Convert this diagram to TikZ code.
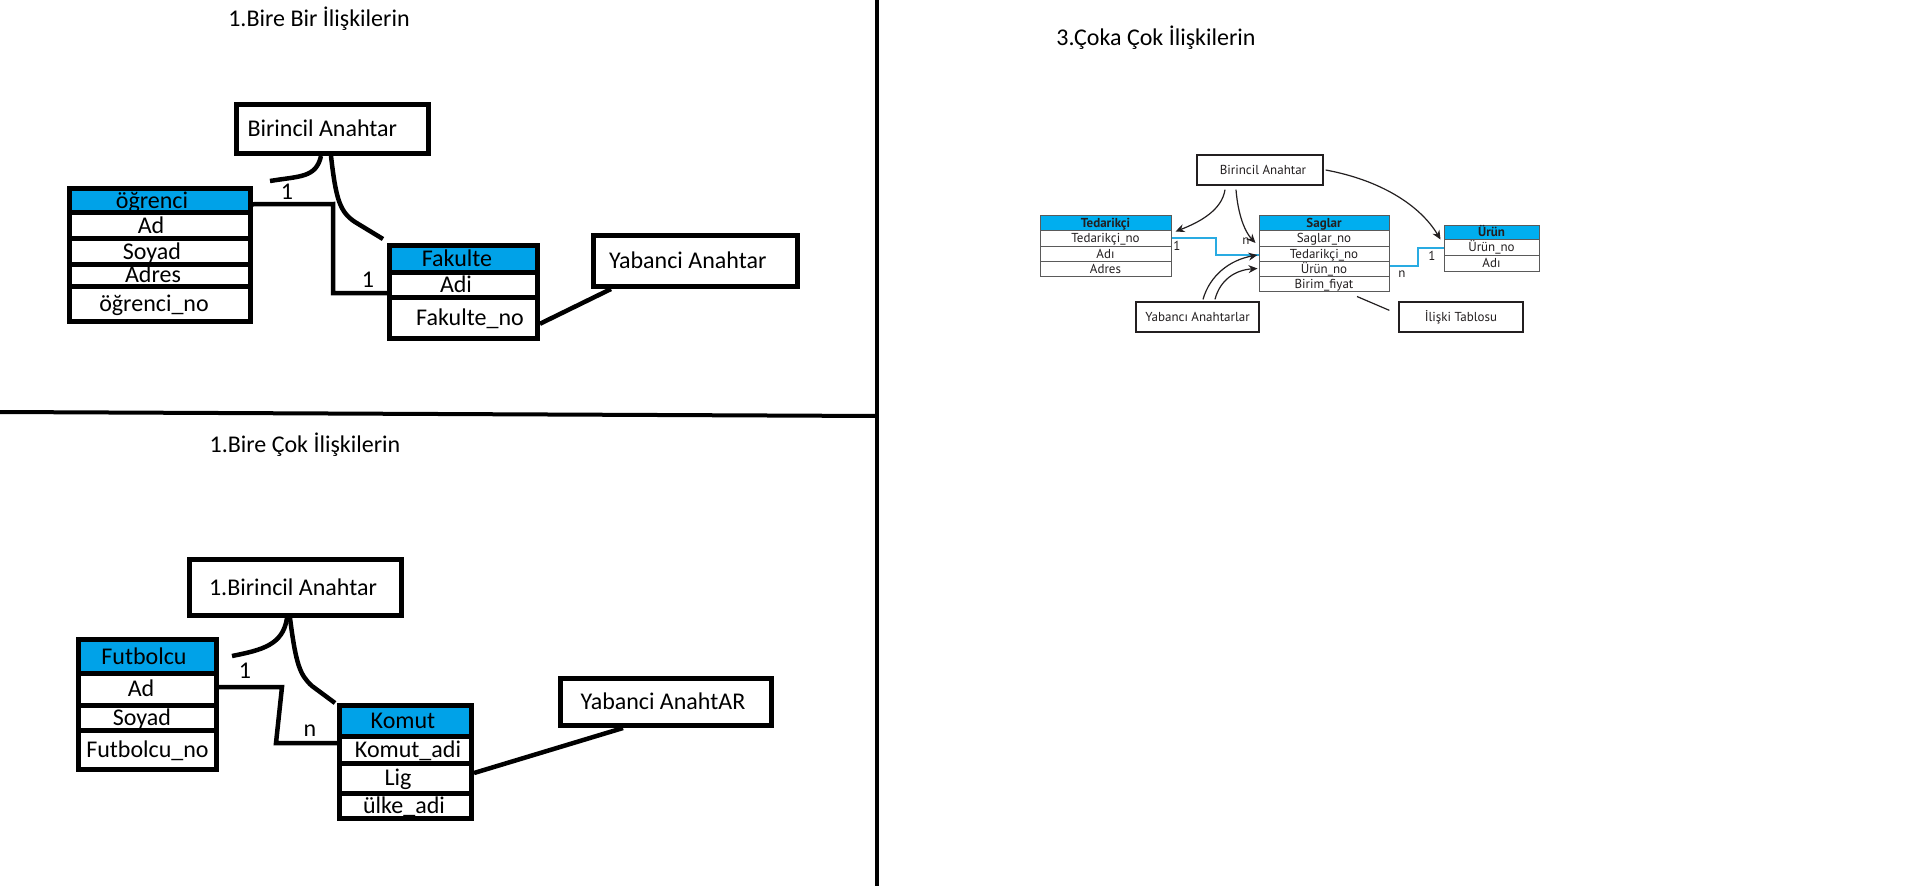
\documentclass[tikz,border=0pt]{standalone}
\usepackage{fontspec}
\setmainfont{Carlito}
\newfontfamily\ptsans{PT Sans}
\usetikzlibrary{calc,arrows.meta}
\definecolor{paintblue}{RGB}{0,162,232}
\definecolor{cyanhead}{RGB}{0,174,239}
\definecolor{cyanline}{RGB}{41,171,226}
\definecolor{ink}{RGB}{35,31,32}
\definecolor{cellgray}{RGB}{90,90,90}
\newcommand\txsh[2]{\makebox[0pt]{\hspace*{#1}#2}}
\begin{document}
\begin{tikzpicture}[x=1pt,y=-1pt,
  pfont/.style={font=\fontsize{24}{24}\selectfont, text height=15.5pt, text depth=0pt},
  pcell/.style={draw=black, line width=5pt, fill=white, inner sep=0pt, pfont},
  phead/.style={pcell, fill=paintblue},
  pbox/.style={draw=black, line width=5pt, fill=white, inner sep=0pt, pfont},
  plink/.style={draw=black, line width=4.5pt},
  plabel/.style={inner sep=0pt, pfont},
  ptitle/.style={inner sep=0pt, pfont},
  tfont/.style={font=\ptsans\fontsize{13}{13}\selectfont, text height=9pt, text depth=0pt, text=ink},
  tcell/.style={draw=cellgray, line width=1pt, fill=white, inner sep=0pt, tfont},
  thead/.style={tcell, fill=cyanhead, font=\ptsans\bfseries\fontsize{13}{13}\selectfont},
  tbox/.style={draw=ink, line width=1.3pt, fill=white, inner sep=0pt, tfont},
  tlabel/.style={inner sep=0pt, tfont},
  tarrow/.style={draw=ink, line width=1.2pt, -{Stealth[length=9pt,width=8pt]}},
  tline/.style={draw=ink, line width=1.2pt},
  tblue/.style={draw=cyanline, line width=1.5pt}
]
\fill[white] (0,0) rectangle (1911,886);
\useasboundingbox (0,0) rectangle (1911,886);

% dividers
\draw[line width=4pt] (0,412) -- (878,416);
\draw[line width=4pt] (877,0) -- (877,886);

% ---------- Section 1 ----------
\node[ptitle] (t1) at (319,19) {1.Bire Bir İlişkilerin};
\node[pbox, minimum width=192pt, minimum height=49pt] (bir1) at (332.5,129) {\makebox[170pt][l]{Birincil Anahtar}};

\node[phead, minimum width=181pt, minimum height=23.5pt] (ogr) at (160,200.25) {\txsh{-16pt}{öğrenci}};
\node[pcell, minimum width=181pt, minimum height=26.5pt] (ograd) at (160,225.25) {\txsh{-18pt}{Ad}};
\node[pcell, minimum width=181pt, minimum height=25.5pt] (ogrsoy) at (160,251.25) {\txsh{-16pt}{Soyad}};
\node[pcell, minimum width=181pt, minimum height=22pt] (ogradr) at (160,275) {\txsh{-14pt}{Adres}};
\node[pcell, minimum width=181pt, minimum height=35.5pt] (ogrno) at (160,303.75) {\txsh{-12pt}{öğrenci\_no}};

\node[phead, minimum width=148pt, minimum height=26.5pt] (fak) at (463.5,258.75) {\txsh{-13pt}{Fakulte}};
\node[pcell, minimum width=148pt, minimum height=25pt] (fadi) at (463.5,284.5) {\txsh{-15pt}{Adi}};
\node[pcell, minimum width=148pt, minimum height=41.5pt] (fno) at (463.5,317.75) {\txsh{13pt}{Fakulte\_no}};

\node[pbox, minimum width=204pt, minimum height=51pt] (yab1) at (695.5,261) {\makebox[173pt][l]{Yabanci Anahtar}};

\coordinate (k1) at (333,204);
\coordinate (k2) at (333,293);
\draw[plink] ($(ogr.east)+(0,4)$) -- (k1) -- (k2) -- ($(fadi.west)+(0,8.5)$);
\draw[plink] ($(fno.east)+(0,6)$) -- ($(yab1.south west)+(20,0)$);

\coordinate (c1e) at (270,181);
\draw[plink] ($(bir1.south)+(-11.5,0)$) .. controls (316,178) and (300,176) .. (c1e);
\coordinate (c2e) at (383,239);
\draw[plink] ($(bir1.south)+(-1.5,0)$) .. controls (336,200) and (340,212) .. (355,222) -- (c2e);

\node[plabel] (l1a) at (287,192) {1};
\node[plabel] (l1b) at (368,280) {1};

% ---------- Section 2 ----------
\node[ptitle] (t2) at (305,445) {1.Bire Çok İlişkilerin};
\node[pbox, minimum width=212pt, minimum height=56pt] (bir2) at (295.5,587.5) {\txsh{-5pt}{1.Birincil Anahtar}};

\node[phead, minimum width=138pt, minimum height=33.5pt] (fut) at (147.5,656.25) {\txsh{-7pt}{Futbolcu}};
\node[pcell, minimum width=138pt, minimum height=32pt] (fad) at (147.5,689) {\txsh{-13pt}{Ad}};
\node[pcell, minimum width=138pt, minimum height=25pt] (fsoy) at (147.5,717.5) {\txsh{-11pt}{Soyad}};
\node[pcell, minimum width=138pt, minimum height=39.5pt] (fno2) at (147.5,749.75) {Futbolcu\_no};

\node[phead, minimum width=132pt, minimum height=30.5pt] (kom) at (405.5,720.75) {\txsh{-5pt}{Komut}};
\node[pcell, minimum width=132pt, minimum height=27pt] (kadi) at (405.5,749.5) {\txsh{5pt}{Komut\_adi}};
\node[pcell, minimum width=132pt, minimum height=30pt] (lig) at (405.5,778) {\txsh{-15pt}{Lig}};
\node[pcell, minimum width=132pt, minimum height=25.5pt] (ulke) at (405.5,805.75) {\txsh{-3pt}{ülke\_adi}};

\node[pbox, minimum width=211pt, minimum height=47pt] (yab2) at (666,702) {\txsh{-6pt}{Yabanci AnahtAR}};

\coordinate (k3) at (282,687);
\coordinate (k4) at (276,743);
\draw[plink] ($(fad.east)+(0,-2)$) -- (k3) -- (k4) -- ($(kadi.west)+(0,-6.5)$);
\draw[plink] ($(lig.east)+(0,-5)$) -- ($(yab2.south west)+(65,0)$);

\coordinate (c3e) at (232,656);
\draw[plink] ($(bir2.south)+(-8.5,0)$) .. controls (283,645) and (262,650) .. (c3e);
\coordinate (c4e) at (335,703);
\draw[plink] ($(bir2.south)+(-5.5,0)$) .. controls (296,665) and (300,675) .. (312,686) -- (c4e);

\node[plabel] (l2a) at (245,671) {1};
\node[plabel] (l2b) at (310,729) {n};

% ---------- Section 3 ----------
\node[ptitle] (t3) at (1156,38) {3.Çoka Çok İlişkilerin};
\node[tbox, minimum width=126pt, minimum height=30pt] (bir3) at (1260,170) {\txsh{6pt}{Birincil Anahtar}};

\node[thead, minimum width=131pt, minimum height=15pt] (ted) at (1105.5,222.5) {Tedarikçi};
\node[tcell, minimum width=131pt, minimum height=16pt] (tedno) at (1105.5,238) {Tedarikçi\_no};
\node[tcell, minimum width=131pt, minimum height=15pt] (tedadi) at (1105.5,253.5) {Adı};
\node[tcell, minimum width=131pt, minimum height=15pt] (tedadr) at (1105.5,268.5) {Adres};

\node[thead, minimum width=130pt, minimum height=15pt] (sag) at (1324,222.5) {Saglar};
\node[tcell, minimum width=130pt, minimum height=16pt] (sagno) at (1324,238) {Saglar\_no};
\node[tcell, minimum width=130pt, minimum height=15pt] (sagted) at (1324,253.5) {Tedarikçi\_no};
\node[tcell, minimum width=130pt, minimum height=15pt] (sagurun) at (1324,268.5) {Ürün\_no};
\node[tcell, minimum width=130pt, minimum height=15pt] (sagbf) at (1324,283.5) {Birim\_fiyat};

\node[thead, minimum width=95pt, minimum height=14pt] (urun) at (1491.5,232) {Ürün};
\node[tcell, minimum width=95pt, minimum height=16pt] (urunno) at (1491.5,247) {Ürün\_no};
\node[tcell, minimum width=95pt, minimum height=16pt] (urunadi) at (1491.5,263) {Adı};

\node[tbox, minimum width=123pt, minimum height=30pt] (yab3) at (1197.5,317) {Yabancı Anahtarlar};
\node[tbox, minimum width=124pt, minimum height=30pt] (ilis) at (1461,317) {İlişki Tablosu};

\coordinate (b1) at (1216,238);
\coordinate (b2) at (1216,255);
\draw[tblue] (tedno.east) -- (b1) -- (b2) -- ($(sagted.west)+(0,1.5)$);
\coordinate (b3) at (1418,266);
\coordinate (b4) at (1418,248);
\draw[tblue] ($(sagurun.east)+(0,-2.5)$) -- (b3) -- (b4) -- ($(urunno.west)+(0,1)$);

\node[tlabel] (l3a) at (1177,246) {1};
\node[tlabel] (l3b) at (1246,239.5) {n};
\node[tlabel] (l3c) at (1402,272.5) {n};
\node[tlabel] (l3d) at (1432,256) {1};

\draw[tarrow] ($(bir3.south)+(-35,4)$) .. controls (1222,210) and (1200,222) .. ($(ted.south east)+(4,1)$);
\draw[tarrow] ($(bir3.south)+(-24,4)$) .. controls (1238,215) and (1245,232) .. ($(sagno.west)+(-3,5)$);
\draw[tarrow] ($(bir3.east)+(2,0)$) .. controls (1380,180) and (1420,205) .. ($(urun.south west)+(-3,0)$);
\draw[tarrow] ($(yab3.north)+(5.5,-2)$) .. controls (1210,275) and (1230,260) .. ($(sagted.west)+(-1,1.5)$);
\draw[tarrow] ($(yab3.north)+(17.5,-2)$) .. controls (1220,280) and (1235,270) .. ($(sagurun.west)+(-1,0)$);
\draw[tline] ($(sagbf.south)+(33,5)$) -- ($(ilis.north west)+(-9,9)$);
\end{tikzpicture}
\end{document}
